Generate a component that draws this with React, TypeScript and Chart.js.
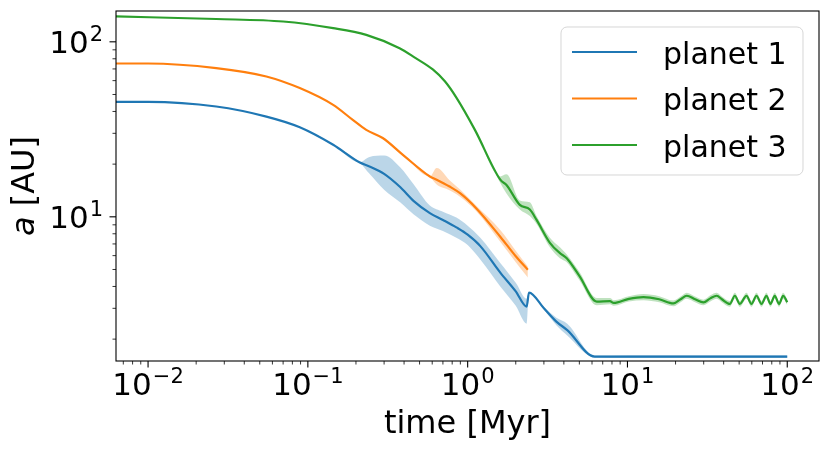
import React, { useEffect, useRef } from 'react';
import { Chart, registerables } from 'chart.js';

Chart.register(...registerables);

const FONT = '"DejaVu Sans", sans-serif';

// planet 1
const blueTime = [0.0063, 0.01, 0.0267, 0.055, 0.089, 0.144, 0.21, 0.243, 0.3, 0.378, 0.46, 0.58, 0.7, 0.85, 1.0, 1.2, 1.6, 2.0, 2.34, 2.42, 3.0, 3.59, 4.2, 6.24, 10, 30, 100];
const blueA = [45.4, 45.4, 42.7, 37.4, 32.5, 25.8, 20.5, 19.4, 17.6, 14.8, 12.3, 10.5, 9.6, 8.7, 7.9, 6.8, 4.8, 3.75, 3.07, 3.69, 3.0, 2.52, 2.25, 1.59, 1.59, 1.59, 1.59];
const blueLo = [45.4, 45.4, 42.7, 37.4, 32.5, 25.8, 20.5, 17.6, 14.3, 12.1, 10.3, 8.9, 8.3, 7.6, 6.9, 5.7, 4.0, 3.1, 2.45, 3.69, 2.95, 2.4, 2.1, 1.57, 1.56, 1.56, 1.56];
const blueHi = [45.4, 45.4, 42.7, 37.4, 32.5, 25.8, 20.5, 22.0, 22.4, 19.2, 15.3, 11.6, 10.7, 9.9, 8.9, 7.6, 5.45, 4.2, 3.4, 3.69, 3.05, 2.65, 2.45, 1.61, 1.62, 1.62, 1.62];

// planet 2
const orangeTime = [0.0063, 0.01, 0.0267, 0.055, 0.089, 0.144, 0.191, 0.232, 0.294, 0.4, 0.58, 0.64, 0.77, 0.9, 1.13, 1.6, 2.0, 2.38];
const orangeA = [75.2, 75.2, 70.8, 63.4, 54.4, 43.6, 35.8, 31.4, 28.2, 22.3, 17.0, 16.3, 14.9, 13.6, 11.2, 7.7, 5.95, 4.98];
const orangeLo = [75.2, 75.2, 70.8, 63.4, 54.4, 43.6, 35.8, 31.4, 28.2, 22.3, 17.0, 15.3, 14.2, 13.0, 10.8, 7.2, 5.5, 4.5];
const orangeHi = [75.2, 75.2, 70.8, 63.4, 54.4, 43.6, 35.8, 31.4, 28.2, 22.3, 17.0, 19.0, 16.2, 14.3, 11.6, 8.4, 6.4, 5.2];

// planet 3
const greenTime = [0.0063, 0.0267, 0.07, 0.144, 0.232, 0.375, 0.47, 0.605, 0.72, 0.85, 1.11, 1.6, 1.75, 2.12, 2.45, 2.7, 3.27, 3.78, 4.17, 5.0, 6.43, 7.77, 8.2, 10.2, 12.6, 15.8, 19.4, 21.5, 23.5, 26.5, 29.9, 33, 36.2, 39, 43.7, 47, 50.5, 55.6, 59.7, 64.2, 69, 74.1, 78.5, 83.5, 88.9, 94.2, 100];
const greenA = [139.6, 135, 130.6, 119.8, 109.6, 92, 81, 69.5, 59.5, 48, 31.4, 16.3, 15.2, 11.7, 11.0, 9.6, 7.1, 6.2, 5.8, 4.6, 3.28, 3.3, 3.22, 3.4, 3.48, 3.38, 3.2, 3.38, 3.54, 3.38, 3.24, 3.42, 3.54, 3.38, 3.18, 3.54, 3.18, 3.54, 3.18, 3.54, 3.18, 3.54, 3.18, 3.54, 3.18, 3.54, 3.25];
const greenLo = [139.6, 135, 130.6, 119.8, 109.6, 92, 81, 69.5, 59.5, 48, 31.4, 15.6, 13.6, 11.0, 10.1, 9.1, 6.7, 5.8, 5.5, 4.35, 3.12, 3.16, 3.1, 3.28, 3.34, 3.25, 3.08, 3.25, 3.4, 3.25, 3.12, 3.28, 3.4, 3.25, 3.06, 3.4, 3.06, 3.4, 3.06, 3.4, 3.06, 3.4, 3.06, 3.4, 3.06, 3.4, 3.13];
const greenHi = [139.6, 135, 130.6, 119.8, 109.6, 92, 81, 69.5, 59.5, 48, 31.4, 17.0, 17.5, 12.4, 12.1, 10.1, 7.6, 6.7, 6.1, 4.85, 3.44, 3.44, 3.34, 3.52, 3.62, 3.52, 3.32, 3.5, 3.68, 3.5, 3.36, 3.56, 3.68, 3.5, 3.3, 3.68, 3.3, 3.68, 3.3, 3.68, 3.3, 3.68, 3.3, 3.68, 3.3, 3.68, 3.37];

// axes
const xTicks = [0.01, 0.1, 1, 10, 100];
const xTickExps = ['\u22122', '\u22121', '0', '1', '2'];
const yTicks = [10, 100];
const yTickExps = ['1', '2'];
const xRange = [0.0063, 158];
const yRange = [1.5, 150];

const series = [
  { label: 'planet 1', color: '#1f77b4', band: 'rgba(31,119,180,0.3)', t: blueTime, a: blueA, lo: blueLo, hi: blueHi, order: 3 },
  { label: 'planet 2', color: '#ff7f0e', band: 'rgba(255,127,14,0.3)', t: orangeTime, a: orangeA, lo: orangeLo, hi: orangeHi, order: 2 },
  { label: 'planet 3', color: '#2ca02c', band: 'rgba(44,160,44,0.3)', t: greenTime, a: greenA, lo: greenLo, hi: greenHi, order: 1 },
];

const pts = (t: number[], a: number[]) => t.map((x, i) => ({ x, y: a[i] }));

function minorTicks(min: number, max: number) {
  const out: number[] = [];
  for (let d = Math.floor(Math.log10(min)); d <= Math.ceil(Math.log10(max)); d++) {
    for (let m = 2; m <= 9; m++) {
      const v = m * Math.pow(10, d);
      if (v >= min && v <= max) out.push(v);
    }
  }
  return out;
}

const framePlugin = {
  id: 'framePlugin',
  afterDraw(chart: any) {
    const { ctx, chartArea: a, scales } = chart;
    const xs = scales.x;
    const ys = scales.y;
    ctx.save();
    ctx.strokeStyle = '#000';
    ctx.fillStyle = '#000';
    const seg = (x1: number, y1: number, x2: number, y2: number, w: number) => {
      ctx.lineWidth = w;
      ctx.beginPath();
      ctx.moveTo(x1, y1);
      ctx.lineTo(x2, y2);
      ctx.stroke();
    };

    // tick marks
    minorTicks(xs.min, xs.max).forEach((v) => {
      const px = xs.getPixelForValue(v);
      seg(px, a.bottom, px, a.bottom + 3.5, 0.8);
    });
    xTicks.forEach((v) => {
      const px = xs.getPixelForValue(v);
      seg(px, a.bottom, px, a.bottom + 6.5, 1.1);
    });
    minorTicks(ys.min, ys.max).forEach((v) => {
      const py = ys.getPixelForValue(v);
      seg(a.left, py, a.left - 3.5, py, 0.8);
    });
    yTicks.forEach((v) => {
      const py = ys.getPixelForValue(v);
      seg(a.left, py, a.left - 6.5, py, 1.1);
    });

    // spines
    ctx.lineWidth = 1.1;
    ctx.strokeRect(a.left, a.top, a.right - a.left, a.bottom - a.top);

    // tick labels as 10^n
    ctx.textBaseline = 'alphabetic';
    ctx.textAlign = 'left';
    const drawPow = (exp: string, x: number, y: number, center: boolean) => {
      ctx.font = `31px ${FONT}`;
      const w1 = ctx.measureText('10').width;
      ctx.font = `21px ${FONT}`;
      const w2 = ctx.measureText(exp).width;
      const total = w1 + 1 + w2;
      const x0 = center ? x - total / 2 : x - total;
      ctx.font = `31px ${FONT}`;
      ctx.fillText('10', x0, y);
      ctx.font = `21px ${FONT}`;
      ctx.fillText(exp, x0 + w1 + 1, y - 12.3);
    };
    xTicks.forEach((v, i) => drawPow(xTickExps[i], xs.getPixelForValue(v), a.bottom + 34, true));
    yTicks.forEach((v, i) => drawPow(yTickExps[i], a.left - 13, ys.getPixelForValue(v) + 11, false));

    // axis titles
    ctx.font = `32px ${FONT}`;
    ctx.textAlign = 'center';
    ctx.fillText('time [Myr]', (a.left + a.right) / 2, a.bottom + 72);

    ctx.save();
    ctx.translate(a.left - 82, (a.top + a.bottom) / 2);
    ctx.rotate(-Math.PI / 2);
    ctx.textAlign = 'left';
    ctx.font = `italic 32px ${FONT}`;
    const wa = ctx.measureText('a').width;
    ctx.font = `32px ${FONT}`;
    const wr = ctx.measureText(' [AU]').width;
    const sx = -(wa + wr) / 2;
    ctx.font = `italic 32px ${FONT}`;
    ctx.fillText('a', sx, 0);
    ctx.font = `32px ${FONT}`;
    ctx.fillText(' [AU]', sx + wa, 0);
    ctx.restore();

    // legend
    const mains = chart.data.datasets.filter((d: any) => d.isMain);
    const bw = 242;
    const bh = 148;
    const bx = a.right - 16 - bw;
    const by = a.top + 16;
    ctx.beginPath();
    ctx.roundRect(bx, by, bw, bh, 6);
    ctx.fillStyle = 'rgba(255,255,255,0.8)';
    ctx.fill();
    ctx.strokeStyle = 'rgba(204,204,204,0.8)';
    ctx.lineWidth = 1;
    ctx.stroke();
    ctx.font = `30px ${FONT}`;
    ctx.textAlign = 'left';
    mains.forEach((d: any, i: number) => {
      const ly = by + 25 + i * 46.5;
      ctx.strokeStyle = d.borderColor;
      seg(bx + 11, ly, bx + 76, ly, 2.2);
      ctx.fillStyle = '#000';
      ctx.fillText(d.label, bx + 102, ly + 11.5);
    });
    ctx.restore();
  },
};

export default function App() {
  const canvasRef = useRef<HTMLCanvasElement>(null);

  useEffect(() => {
    const ctx = canvasRef.current!.getContext('2d')!;
    const datasets: any[] = [];
    series.forEach((s) => {
      datasets.push({
        label: s.label + ' lower',
        data: pts(s.t, s.lo),
        borderColor: 'transparent',
        borderWidth: 0,
        pointRadius: 0,
        cubicInterpolationMode: 'monotone',
        fill: false,
        order: 5,
      });
      datasets.push({
        label: s.label + ' upper',
        data: pts(s.t, s.hi),
        borderColor: 'transparent',
        borderWidth: 0,
        pointRadius: 0,
        cubicInterpolationMode: 'monotone',
        backgroundColor: s.band,
        fill: '-1',
        order: 5,
      });
      datasets.push({
        label: s.label,
        isMain: true,
        data: pts(s.t, s.a),
        borderColor: s.color,
        borderWidth: 2.2,
        borderJoinStyle: 'round',
        cubicInterpolationMode: 'monotone',
        pointRadius: 0,
        fill: false,
        order: s.order,
      });
    });

    const chart = new Chart(ctx, {
      type: 'line',
      data: { datasets },
      options: {
        animation: false,
        responsive: true,
        maintainAspectRatio: false,
        events: [],
        layout: { padding: { left: 0, right: 12, top: 11, bottom: 0 } },
        plugins: {
          legend: { display: false },
          tooltip: { enabled: false },
        },
        scales: {
          x: {
            type: 'logarithmic',
            min: xRange[0],
            max: xRange[1],
            grid: { display: false },
            border: { display: false },
            ticks: { display: false },
            afterFit: (s: any) => {
              s.height = 91;
            },
          },
          y: {
            type: 'logarithmic',
            min: yRange[0],
            max: yRange[1],
            grid: { display: false },
            border: { display: false },
            ticks: { display: false },
            afterFit: (s: any) => {
              s.width = 116;
            },
          },
        },
      },
      plugins: [framePlugin],
    } as any);

    return () => {
      chart.destroy();
    };
  }, []);

  return (
    <div style={{ position: 'absolute', left: 0, top: 0, width: 831, height: 452, background: '#fff' }}>
      <canvas ref={canvasRef}></canvas>
    </div>
  );
}
